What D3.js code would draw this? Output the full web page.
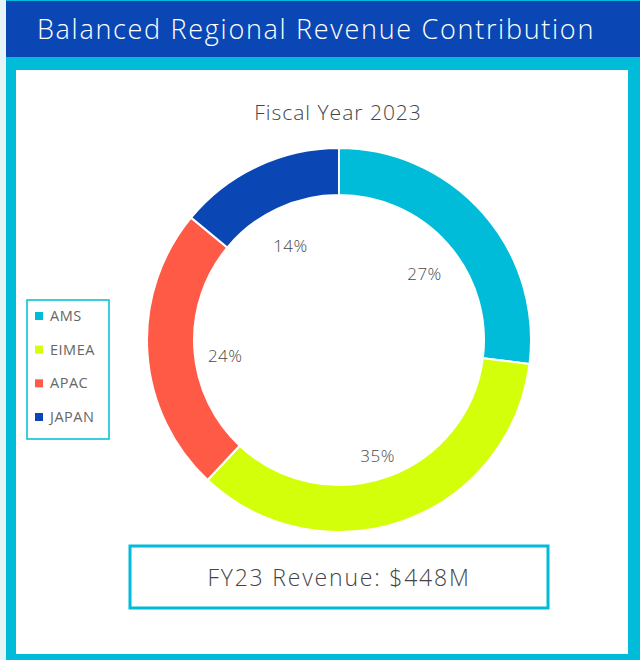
<!DOCTYPE html>
<html>
<head>
<meta charset="utf-8">
<script src="https://cdn.jsdelivr.net/npm/d3@7"></script>
<style>
  body { margin: 0; background: #e4f4f7; }
  text { font-family: "Open Sans", "Lato", sans-serif; }
</style>
</head>
<body>
<div id="chart"></div>
<script>
var regions = ["AMS", "EIMEA", "APAC", "JAPAN"];
var shares = [27, 35, 24, 14];
var colors = ["#00bcd9", "#d4ff0a", "#ff5a45", "#0a47b5"];
var title = "Balanced Regional Revenue Contribution";
var subtitle = "Fiscal Year 2023";
var totalLabel = "FY23 Revenue: $448M";

var width = 640,
    height = 660;

var svg = d3.select("#chart")
    .append("svg")
    .attr("width", width)
    .attr("height", height);

/* frame */
svg.append("rect").attr("x", 6).attr("y", 0).attr("width", width - 6).attr("height", height)
    .attr("fill", "#00bcd9");
svg.append("rect").attr("x", 6).attr("y", 1).attr("width", width - 6).attr("height", 56)
    .attr("fill", "#0a47b5");
svg.append("rect").attr("x", 16).attr("y", 70).attr("width", 612).attr("height", 584)
    .attr("fill", "#fff");

svg.append("text")
    .attr("x", 316).attr("y", 39)
    .attr("text-anchor", "middle")
    .attr("fill", "#fff")
    .attr("font-size", 27)
    .attr("font-weight", 300)
    .attr("letter-spacing", 1.7)
    .text(title);

svg.append("text")
    .attr("x", 338).attr("y", 120)
    .attr("text-anchor", "middle")
    .attr("fill", "#444")
    .attr("font-size", 21)
    .attr("font-weight", 300)
    .attr("letter-spacing", 1)
    .text(subtitle);

/* donut */
var cx = 339, cy = 340;
var pie = d3.pie().sort(null).value(function(d) { return d; });
var arc = d3.arc().innerRadius(145).outerRadius(192);
var labelArc = d3.arc().innerRadius(114).outerRadius(114);

var g = svg.append("g").attr("transform", "translate(" + cx + "," + cy + ")");

g.selectAll("path")
    .data(pie(shares))
    .enter().append("path")
    .attr("d", arc)
    .attr("fill", function(d, i) { return colors[i]; })
    .attr("stroke", "#fff")
    .attr("stroke-width", 2);

g.selectAll("text")
    .data(pie(shares))
    .enter().append("text")
    .attr("transform", function(d) {
        var c = labelArc.centroid(d);
        return "translate(" + c[0] + "," + (c[1] + 9) + ")";
    })
    .attr("text-anchor", "middle")
    .attr("dy", "0.35em")
    .attr("fill", "#4a4a4a")
    .attr("font-size", 17)
    .attr("font-weight", 300)
    .attr("letter-spacing", 0.5)
    .text(function(d) { return d.data + "%"; });

/* legend */
svg.append("rect").attr("x", 27).attr("y", 300).attr("width", 82).attr("height", 139)
    .attr("fill", "#fff").attr("stroke", "#00bcd9").attr("stroke-width", 1.5);

var y = d3.scalePoint().domain(regions).range([316, 417]);

var item = svg.append("g").selectAll("g")
    .data(regions)
    .enter().append("g")
    .attr("transform", function(d) { return "translate(35," + y(d) + ")"; });

item.append("rect")
    .attr("y", -4).attr("width", 8).attr("height", 8)
    .attr("fill", function(d, i) { return colors[i]; });

item.append("text")
    .attr("x", 15).attr("dy", "0.35em")
    .attr("fill", "#666")
    .attr("font-size", 14.5)
    .attr("letter-spacing", 0.5)
    .text(function(d) { return d; });

/* total box */
svg.append("rect").attr("x", 130).attr("y", 546).attr("width", 418).attr("height", 62)
    .attr("fill", "#fff").attr("stroke", "#00bcd9").attr("stroke-width", 3);

svg.append("text")
    .attr("x", 339).attr("y", 578)
    .attr("dy", "0.35em")
    .attr("text-anchor", "middle")
    .attr("fill", "#444")
    .attr("font-size", 23)
    .attr("font-weight", 300)
    .attr("letter-spacing", 1.8)
    .text(totalLabel);
</script>
</body>
</html>
